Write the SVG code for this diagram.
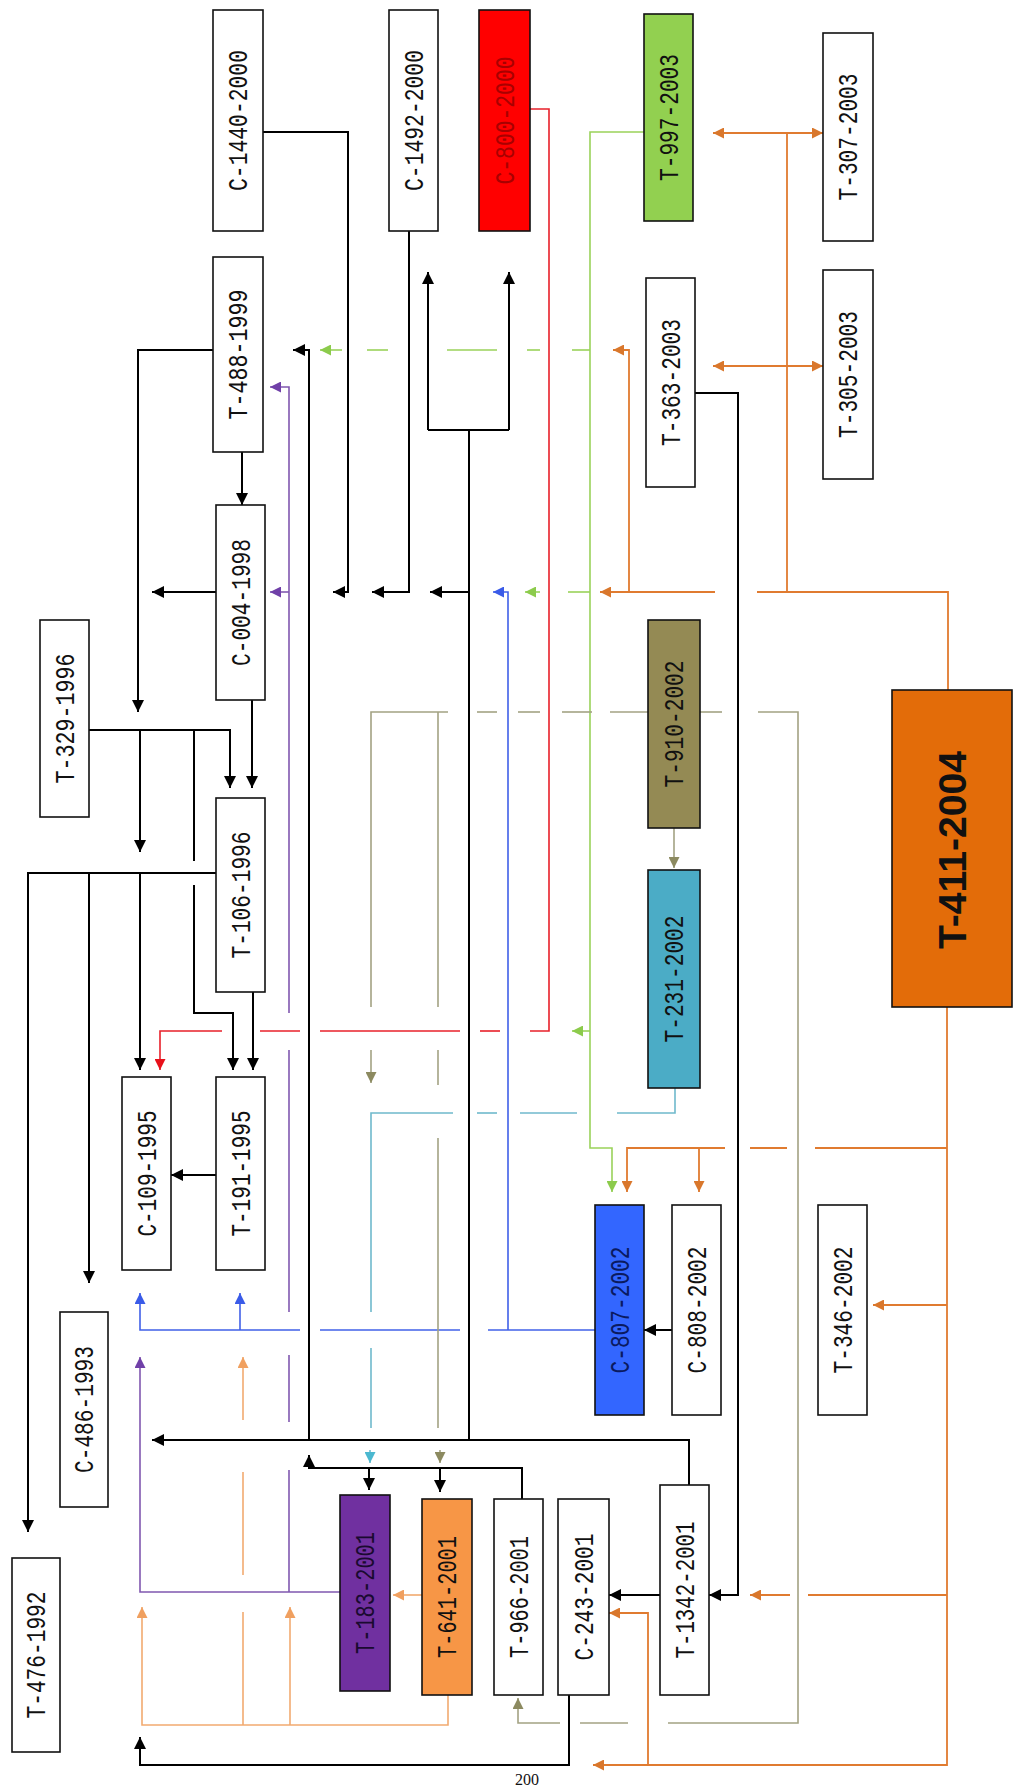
<svg xmlns="http://www.w3.org/2000/svg" width="1013" height="1787" viewBox="0 0 1013 1787">
<style>
.box{stroke:#111;stroke-width:1.6}
.w{fill:#fff}
.lbl{font-family:"Liberation Mono","Courier New",monospace;font-size:28px;fill:#111;text-anchor:middle}
.big{font-family:"Liberation Sans",Arial,sans-serif;font-size:38px;font-weight:bold;fill:#111;text-anchor:middle}
.c{fill:none;stroke-linejoin:miter}
.k{stroke:#000;stroke-width:2}
.r{stroke:#E8202A;stroke-width:1.6}
.g{stroke:#9AD25A;stroke-width:1.6}
.b{stroke:#4060E8;stroke-width:1.6}
.p{stroke:#8058B0;stroke-width:1.6}
.ol{stroke:#F2AA70;stroke-width:1.6}
.od{stroke:#E07B30;stroke-width:1.8}
.v{stroke:#A3A283;stroke-width:1.6}
.cy{stroke:#6FB9CC;stroke-width:1.6}
</style>
<defs>
<marker id="ak" viewBox="0 0 12 12" refX="12" refY="6" markerWidth="12" markerHeight="12" markerUnits="userSpaceOnUse" orient="auto"><path d="M0,0 L12,6 L0,12 z" fill="#000"/></marker>
<marker id="ar" viewBox="0 0 10 10" refX="10" refY="5" markerWidth="11" markerHeight="11" markerUnits="userSpaceOnUse" orient="auto"><path d="M0,0 L10,5 L0,10 z" fill="#E8101A"/></marker>
<marker id="ag" viewBox="0 0 10 10" refX="10" refY="5" markerWidth="11" markerHeight="11" markerUnits="userSpaceOnUse" orient="auto"><path d="M0,0 L10,5 L0,10 z" fill="#8CCB4C"/></marker>
<marker id="ab" viewBox="0 0 10 10" refX="10" refY="5" markerWidth="11" markerHeight="11" markerUnits="userSpaceOnUse" orient="auto"><path d="M0,0 L10,5 L0,10 z" fill="#3A5BE8"/></marker>
<marker id="ap" viewBox="0 0 10 10" refX="10" refY="5" markerWidth="11" markerHeight="11" markerUnits="userSpaceOnUse" orient="auto"><path d="M0,0 L10,5 L0,10 z" fill="#7040A8"/></marker>
<marker id="aol" viewBox="0 0 10 10" refX="10" refY="5" markerWidth="11" markerHeight="11" markerUnits="userSpaceOnUse" orient="auto"><path d="M0,0 L10,5 L0,10 z" fill="#F0A060"/></marker>
<marker id="aod" viewBox="0 0 10 10" refX="10" refY="5" markerWidth="11" markerHeight="11" markerUnits="userSpaceOnUse" orient="auto"><path d="M0,0 L10,5 L0,10 z" fill="#D9772C"/></marker>
<marker id="av" viewBox="0 0 10 10" refX="10" refY="5" markerWidth="11" markerHeight="11" markerUnits="userSpaceOnUse" orient="auto"><path d="M0,0 L10,5 L0,10 z" fill="#8C8A60"/></marker>
<marker id="acy" viewBox="0 0 10 10" refX="10" refY="5" markerWidth="11" markerHeight="11" markerUnits="userSpaceOnUse" orient="auto"><path d="M0,0 L10,5 L0,10 z" fill="#4BB8D0"/></marker>
</defs>
<rect width="1013" height="1787" fill="#fff"/>

<g id="connectors" class="c">
<!-- black -->
<path class="k" d="M213,350 H138 V712" marker-end="url(#ak)"/>
<path class="k" d="M309,1440 V350 H293" marker-end="url(#ak)"/>
<path class="k" d="M242,452 V505" marker-end="url(#ak)"/>
<path class="k" d="M216,592 H152" marker-end="url(#ak)"/>
<path class="k" d="M263,132 H348 V592 H333" marker-end="url(#ak)"/>
<path class="k" d="M409,231 V592 H372" marker-end="url(#ak)"/>
<path class="k" d="M469,1440 V430"/>
<path class="k" d="M428,430 H509"/>
<path class="k" d="M428,430 V272" marker-end="url(#ak)"/>
<path class="k" d="M509,430 V272" marker-end="url(#ak)"/>
<path class="k" d="M469,592 H430" marker-end="url(#ak)"/>
<path class="k" d="M89,730 H230 V788" marker-end="url(#ak)"/>
<path class="k" d="M140,730 V852" marker-end="url(#ak)"/>
<path class="k" d="M194,730 V861"/>
<path class="k" d="M194,885 V1013 H233 V1070" marker-end="url(#ak)"/>
<path class="k" d="M252,700 V788" marker-end="url(#ak)"/>
<path class="k" d="M216,873 H28 V1532" marker-end="url(#ak)"/>
<path class="k" d="M89,873 V1283" marker-end="url(#ak)"/>
<path class="k" d="M140,873 V1070" marker-end="url(#ak)"/>
<path class="k" d="M253,992 V1070" marker-end="url(#ak)"/>
<path class="k" d="M216,1175 H171" marker-end="url(#ak)"/>
<path class="k" d="M695,393 H738 V1595 H709" marker-end="url(#ak)"/>
<path class="k" d="M672,1330 H644" marker-end="url(#ak)"/>
<path class="k" d="M689,1485 V1440 H152" marker-end="url(#ak)"/>
<path class="k" d="M522,1499 V1468 H309 V1455" marker-end="url(#ak)"/>
<path class="k" d="M369,1468 V1490" marker-end="url(#ak)"/>
<path class="k" d="M440,1468 V1492" marker-end="url(#ak)"/>
<path class="k" d="M660,1595 H609" marker-end="url(#ak)"/>
<path class="k" d="M569,1695 V1765 H140 V1737" marker-end="url(#ak)"/>
<!-- red -->
<path class="r" d="M530,109 H549 V1031 H530"/>
<path class="r" d="M500,1031 H480"/>
<path class="r" d="M460,1031 H320"/>
<path class="r" d="M300,1031 H260"/>
<path class="r" d="M222,1031 H160 V1070" marker-end="url(#ar)"/>
<!-- green -->
<path class="g" d="M644,132 H590 V1148 H612 V1192" marker-end="url(#ag)"/>
<path class="g" d="M590,350 H572"/>
<path class="g" d="M540,350 H527"/>
<path class="g" d="M497,350 H447"/>
<path class="g" d="M388,350 H367"/>
<path class="g" d="M342,350 H320" marker-end="url(#ag)"/>
<path class="g" d="M590,592 H568"/>
<path class="g" d="M540,592 H525" marker-end="url(#ag)"/>
<path class="g" d="M590,1031 H572" marker-end="url(#ag)"/>
<!-- blue -->
<path class="b" d="M595,1330 H488"/>
<path class="b" d="M460,1330 H320"/>
<path class="b" d="M300,1330 H140 V1293" marker-end="url(#ab)"/>
<path class="b" d="M240,1330 V1293" marker-end="url(#ab)"/>
<path class="b" d="M508,1330 V592 H493" marker-end="url(#ab)"/>
<!-- purple -->
<path class="p" d="M340,1592 H140 V1357" marker-end="url(#ap)"/>
<path class="p" d="M289,1592 V1470"/>
<path class="p" d="M289,1422 V1355"/>
<path class="p" d="M289,1312 V1050"/>
<path class="p" d="M289,1013 V387 H270" marker-end="url(#ap)"/>
<path class="p" d="M289,592 H270" marker-end="url(#ap)"/>
<!-- light orange (T-641) -->
<path class="ol" d="M422,1595 H393" marker-end="url(#aol)"/>
<path class="ol" d="M448,1695 V1725 H142 V1607" marker-end="url(#aol)"/>
<path class="ol" d="M290,1725 V1607" marker-end="url(#aol)"/>
<path class="ol" d="M243,1725 V1612"/>
<path class="ol" d="M243,1575 V1472"/>
<path class="ol" d="M243,1420 V1357" marker-end="url(#aol)"/>
<!-- dark orange (T-411) -->
<path class="od" d="M948,690 V592 H757"/>
<path class="od" d="M715,592 H600" marker-end="url(#aod)"/>
<path class="od" d="M787,592 V133"/>
<path class="od" d="M787,133 H713" marker-end="url(#aod)"/>
<path class="od" d="M787,133 H823" marker-end="url(#aod)"/>
<path class="od" d="M787,366 H713" marker-end="url(#aod)"/>
<path class="od" d="M787,366 H823" marker-end="url(#aod)"/>
<path class="od" d="M629,592 V350 H613" marker-end="url(#aod)"/>
<path class="od" d="M947,1007 V1765 H648 V1613 H609" marker-end="url(#aod)"/>
<path class="od" d="M648,1765 H593" marker-end="url(#aod)"/>
<path class="od" d="M947,1148 H815"/>
<path class="od" d="M787,1148 H750"/>
<path class="od" d="M725,1148 H627 V1192" marker-end="url(#aod)"/>
<path class="od" d="M699,1148 V1192" marker-end="url(#aod)"/>
<path class="od" d="M947,1305 H873" marker-end="url(#aod)"/>
<path class="od" d="M947,1595 H808"/>
<path class="od" d="M790,1595 H750" marker-end="url(#aod)"/>
<!-- olive (T-910) -->
<path class="v" d="M648,712 H610"/>
<path class="v" d="M592,712 H562"/>
<path class="v" d="M540,712 H518"/>
<path class="v" d="M497,712 H477"/>
<path class="v" d="M448,712 H371 V1007"/>
<path class="v" d="M371,1050 V1083" marker-end="url(#av)"/>
<path class="v" d="M438,712 V1007"/>
<path class="v" d="M438,1050 V1085"/>
<path class="v" d="M438,1138 V1428"/>
<path class="v" d="M440,1450 V1463" marker-end="url(#av)"/>
<path class="v" d="M700,712 H722"/>
<path class="v" d="M758,712 H798 V1723 H668"/>
<path class="v" d="M628,1723 H580"/>
<path class="v" d="M560,1723 H518 V1698" marker-end="url(#av)"/>
<path class="v" d="M674,828 V868" marker-end="url(#av)"/>
<!-- cyan (T-231) -->
<path class="cy" d="M675,1088 V1113 H617"/>
<path class="cy" d="M577,1113 H520"/>
<path class="cy" d="M497,1113 H477"/>
<path class="cy" d="M453,1113 H371 V1312"/>
<path class="cy" d="M371,1348 V1428"/>
<path class="cy" d="M370,1450 V1463" marker-end="url(#acy)"/>
</g>

<g id="nodes">
<g id="C-1440-2000"><rect class="box w" x="213" y="10" width="50" height="221"/><text class="lbl" transform="translate(238,120.5) rotate(-90)" y="9" textLength="141" lengthAdjust="spacingAndGlyphs">C-1440-2000</text></g>
<g id="C-1492-2000"><rect class="box w" x="389" y="10" width="49" height="221"/><text class="lbl" transform="translate(413.5,120.5) rotate(-90)" y="9" textLength="141" lengthAdjust="spacingAndGlyphs">C-1492-2000</text></g>
<g id="C-800-2000"><rect class="box" fill="#FF0000" x="479" y="10" width="51" height="221"/><text class="lbl" style="fill:#A80000" transform="translate(504.5,120.5) rotate(-90)" y="9" textLength="128" lengthAdjust="spacingAndGlyphs">C-800-2000</text></g>
<g id="T-997-2003"><rect class="box" fill="#92D050" x="644" y="14" width="49" height="207"/><text class="lbl" transform="translate(668.5,117.5) rotate(-90)" y="9" textLength="127" lengthAdjust="spacingAndGlyphs">T-997-2003</text></g>
<g id="T-307-2003"><rect class="box w" x="823" y="33" width="50" height="208"/><text class="lbl" transform="translate(848,137) rotate(-90)" y="9" textLength="127" lengthAdjust="spacingAndGlyphs">T-307-2003</text></g>
<g id="T-305-2003"><rect class="box w" x="823" y="270" width="50" height="209"/><text class="lbl" transform="translate(848,374.5) rotate(-90)" y="9" textLength="127" lengthAdjust="spacingAndGlyphs">T-305-2003</text></g>
<g id="T-363-2003"><rect class="box w" x="646" y="278" width="49" height="209"/><text class="lbl" transform="translate(670.5,382.5) rotate(-90)" y="9" textLength="127" lengthAdjust="spacingAndGlyphs">T-363-2003</text></g>
<g id="T-488-1999"><rect class="box w" x="213" y="257" width="50" height="195"/><text class="lbl" transform="translate(238,354.5) rotate(-90)" y="9" textLength="130" lengthAdjust="spacingAndGlyphs">T-488-1999</text></g>
<g id="C-004-1998"><rect class="box w" x="216" y="505" width="49" height="195"/><text class="lbl" transform="translate(240.5,602.5) rotate(-90)" y="9" textLength="127" lengthAdjust="spacingAndGlyphs">C-004-1998</text></g>
<g id="T-329-1996"><rect class="box w" x="40" y="620" width="49" height="197"/><text class="lbl" transform="translate(64.5,718.5) rotate(-90)" y="9" textLength="130" lengthAdjust="spacingAndGlyphs">T-329-1996</text></g>
<g id="T-106-1996"><rect class="box w" x="216" y="798" width="49" height="194"/><text class="lbl" transform="translate(240.5,895) rotate(-90)" y="9" textLength="127" lengthAdjust="spacingAndGlyphs">T-106-1996</text></g>
<g id="C-109-1995"><rect class="box w" x="122" y="1077" width="49" height="193"/><text class="lbl" transform="translate(146.5,1173.5) rotate(-90)" y="9" textLength="126" lengthAdjust="spacingAndGlyphs">C-109-1995</text></g>
<g id="T-191-1995"><rect class="box w" x="216" y="1077" width="49" height="193"/><text class="lbl" transform="translate(240.5,1173.5) rotate(-90)" y="9" textLength="126" lengthAdjust="spacingAndGlyphs">T-191-1995</text></g>
<g id="C-486-1993"><rect class="box w" x="60" y="1312" width="48" height="195"/><text class="lbl" transform="translate(84,1409.5) rotate(-90)" y="9" textLength="127" lengthAdjust="spacingAndGlyphs">C-486-1993</text></g>
<g id="T-476-1992"><rect class="box w" x="12" y="1558" width="48" height="194"/><text class="lbl" transform="translate(36,1655) rotate(-90)" y="9" textLength="127" lengthAdjust="spacingAndGlyphs">T-476-1992</text></g>
<g id="T-910-2002"><rect class="box" fill="#948A54" x="648" y="620" width="52" height="208"/><text class="lbl" transform="translate(674,724) rotate(-90)" y="9" textLength="127" lengthAdjust="spacingAndGlyphs">T-910-2002</text></g>
<g id="T-231-2002"><rect class="box" fill="#4BACC6" x="648" y="870" width="52" height="218"/><text class="lbl" transform="translate(674,979) rotate(-90)" y="9" textLength="127" lengthAdjust="spacingAndGlyphs">T-231-2002</text></g>
<g id="T-411-2004"><rect class="box" fill="#E36C09" x="892" y="690" width="120" height="317"/><text class="big" transform="translate(952,850) rotate(-90)" y="14" textLength="198" lengthAdjust="spacingAndGlyphs">T-411-2004</text></g>
<g id="C-807-2002"><rect class="box" fill="#3366FF" x="595" y="1205" width="49" height="210"/><text class="lbl" style="fill:#0A1A60" transform="translate(619.5,1310) rotate(-90)" y="9" textLength="127" lengthAdjust="spacingAndGlyphs">C-807-2002</text></g>
<g id="C-808-2002"><rect class="box w" x="672" y="1205" width="49" height="210"/><text class="lbl" transform="translate(696.5,1310) rotate(-90)" y="9" textLength="127" lengthAdjust="spacingAndGlyphs">C-808-2002</text></g>
<g id="T-346-2002"><rect class="box w" x="818" y="1205" width="49" height="210"/><text class="lbl" transform="translate(842.5,1310) rotate(-90)" y="9" textLength="127" lengthAdjust="spacingAndGlyphs">T-346-2002</text></g>
<g id="T-183-2001"><rect class="box" fill="#7030A0" x="340" y="1495" width="50" height="196"/><text class="lbl" style="fill:#1A0A30" transform="translate(365,1593) rotate(-90)" y="9" textLength="122" lengthAdjust="spacingAndGlyphs">T-183-2001</text></g>
<g id="T-641-2001"><rect class="box" fill="#F79646" x="422" y="1499" width="50" height="196"/><text class="lbl" transform="translate(447,1597) rotate(-90)" y="9" textLength="122" lengthAdjust="spacingAndGlyphs">T-641-2001</text></g>
<g id="T-966-2001"><rect class="box w" x="494" y="1499" width="49" height="196"/><text class="lbl" transform="translate(518.5,1597) rotate(-90)" y="9" textLength="122" lengthAdjust="spacingAndGlyphs">T-966-2001</text></g>
<g id="C-243-2001"><rect class="box w" x="558" y="1499" width="51" height="196"/><text class="lbl" transform="translate(583.5,1597) rotate(-90)" y="9" textLength="127" lengthAdjust="spacingAndGlyphs">C-243-2001</text></g>
<g id="T-1342-2001"><rect class="box w" x="660" y="1485" width="49" height="210"/><text class="lbl" transform="translate(684.5,1590) rotate(-90)" y="9" textLength="137" lengthAdjust="spacingAndGlyphs">T-1342-2001</text></g>
</g>
<text x="527" y="1785" font-family="Liberation Serif,serif" font-size="16" fill="#111" text-anchor="middle">200</text>
</svg>
